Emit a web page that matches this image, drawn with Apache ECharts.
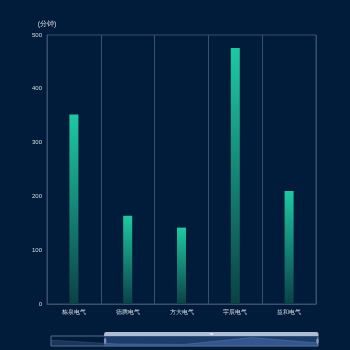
<!DOCTYPE html>
<html>
<head>
<meta charset="utf-8">
<script src="https://cdn.jsdelivr.net/npm/echarts@6/dist/echarts.min.js"></script>
<style>html,body{margin:0;padding:0;background:#011c3a;}#c{width:350px;height:350px;}</style>
</head>
<body>
<div id="c"></div>
<script>
const categories = ['栋泉电气', '德腾电气', '方大电气', '宇辰电气', '益和电气'];
const values = [352, 164, 142, 476, 210];
const yTicks = [0, 100, 200, 300, 400, 500];
const unitName = '(分钟)';

const chart = echarts.init(document.getElementById('c'));
const grad = new echarts.graphic.LinearGradient(0, 0, 0, 1, [
  { offset: 0, color: '#1ec9a2' },
  { offset: 1, color: '#0c4146' }
]);
chart.setOption({
  backgroundColor: '#011c3a',
  animation: false,
  grid: { left: 47, right: 34, top: 35, bottom: 46, show: true, borderColor: '#3b4e6b', borderWidth: 1 },
  xAxis: [{
    type: 'category', data: categories,
    axisLine: { lineStyle: { color: '#3b4e6b' } },
    axisTick: { show: false },
    axisLabel: { color: '#d8dee8', fontSize: 6, margin: 5 },
    splitLine: { show: true, lineStyle: { color: '#3b4e6b' } }
  }, {
    type: 'category', data: categories, show: false
  }],
  yAxis: {
    type: 'value', min: yTicks[0], max: yTicks[yTicks.length - 1], interval: 100,
    name: unitName, nameGap: 7,
    nameTextStyle: { color: '#d8dee8', fontSize: 7 },
    axisLine: { show: true, lineStyle: { color: '#3b4e6b' } },
    axisTick: { show: false },
    axisLabel: { color: '#d8dee8', fontSize: 6, margin: 5 },
    splitLine: { show: false }
  },
  dataZoom: [{
    type: 'slider', xAxisIndex: 1, start: 20, end: 100,
    left: 48, right: 34, bottom: 7, height: 11,
    backgroundColor: 'rgba(0,0,0,0)',
    borderColor: '#56688a',
    fillerColor: 'rgba(70,110,180,0.4)',
    dataBackground: { lineStyle: { color: '#4f6f9e', opacity: 0.6 }, areaStyle: { color: '#34507c', opacity: 0.5 } },
    selectedDataBackground: { lineStyle: { color: '#5f82b8' }, areaStyle: { color: '#40639a', opacity: 0.6 } },
    handleSize: '60%',
    handleStyle: { color: '#9fb0cc', borderColor: '#7f90b0' },
    moveHandleSize: 4,
    moveHandleStyle: { color: '#aebcd4', opacity: 1 },
    showDetail: false,
    textStyle: { color: 'transparent' }
  }],
  series: [{
    type: 'bar', data: values, barWidth: 9, xAxisIndex: 0,
    itemStyle: { color: grad }
  }, {
    type: 'bar', data: values, barWidth: 9, xAxisIndex: 1,
    itemStyle: { opacity: 0 }, silent: true
  }]
});
</script>
</body>
</html>
